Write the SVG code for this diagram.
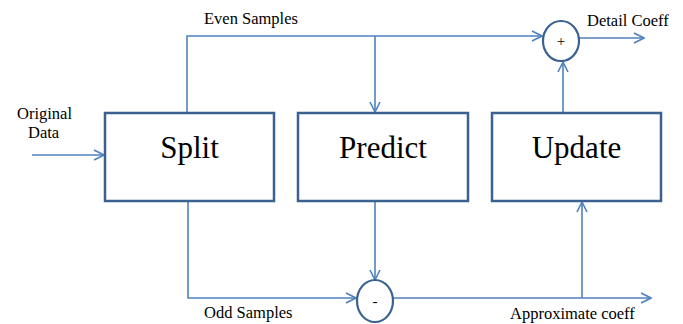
<svg xmlns="http://www.w3.org/2000/svg" width="683" height="324" viewBox="0 0 683 324">
  <style>
    .box { fill: #ffffff; stroke: #3b6190; stroke-width: 2.5; }
    .sum { fill: #ffffff; stroke: #3b6190; stroke-width: 2.2; }
    .wire { fill: none; stroke: #4f81bd; stroke-width: 1.6; }
    .arr { marker-end: url(#head); }
    .lbl { font-family: "Liberation Serif", "Times New Roman", serif; font-size: 16.5px; fill: #000000; }
    .big { font-family: "Liberation Serif", "Times New Roman", serif; font-size: 31px; fill: #000000; text-anchor: middle; }
    .op { font-family: "Liberation Serif", "Times New Roman", serif; font-size: 15px; fill: #000000; text-anchor: middle; }
  </style>
  <defs>
    <marker id="head" viewBox="0 0 12 12" refX="11" refY="6" markerWidth="12" markerHeight="12" markerUnits="userSpaceOnUse" orient="auto">
      <polyline points="1,1 11,6 1,11" fill="none" stroke="#4f81bd" stroke-width="1.6"/>
    </marker>
  </defs>

  <!-- signal paths -->
  <g id="connectors">
    <!-- input -->
    <line class="wire arr" x1="32" y1="155" x2="104" y2="155"/>
    <!-- even branch: split to adder -->
    <polyline class="wire arr" points="187,113 187,36 542,36"/>
    <!-- even branch tap into predict -->
    <line class="wire arr" x1="375" y1="36" x2="375" y2="112"/>
    <!-- adder output -->
    <line class="wire arr" x1="579" y1="38" x2="644" y2="38"/>
    <!-- update to adder -->
    <line class="wire arr" x1="563" y1="113" x2="563" y2="62"/>
    <!-- odd branch: split to subtractor -->
    <polyline class="wire arr" points="188,201 188,298 356,298"/>
    <!-- predict to subtractor -->
    <line class="wire arr" x1="375" y1="201" x2="375" y2="280"/>
    <!-- subtractor output -->
    <line class="wire arr" x1="393" y1="298" x2="651" y2="298"/>
    <!-- approximation tap into update -->
    <line class="wire arr" x1="582" y1="298" x2="582" y2="202"/>
  </g>

  <g id="split">
    <rect class="box" x="105" y="113" width="169" height="88"/>
    <text class="big" x="189.5" y="158">Split</text>
  </g>
  <g id="predict">
    <rect class="box" x="298" y="113" width="170" height="88"/>
    <text class="big" x="383" y="158">Predict</text>
  </g>
  <g id="update">
    <rect class="box" x="492" y="113" width="169" height="88"/>
    <text class="big" x="576.5" y="158">Update</text>
  </g>
  <g id="adder">
    <ellipse class="sum" cx="561" cy="41" rx="18" ry="20"/>
    <text class="op" x="561" y="46">+</text>
  </g>
  <g id="subtractor">
    <ellipse class="sum" cx="375" cy="301" rx="18" ry="21"/>
    <text class="op" x="375" y="306">-</text>
  </g>

  <g id="labels">
    <text class="lbl" x="204" y="24">Even Samples</text>
    <text class="lbl" x="17" y="119">Original</text>
    <text class="lbl" x="28" y="138">Data</text>
    <text class="lbl" x="587" y="26">Detail Coeff</text>
    <text class="lbl" x="204" y="318">Odd Samples</text>
    <text class="lbl" x="510" y="319">Approximate coeff</text>
  </g>
</svg>
